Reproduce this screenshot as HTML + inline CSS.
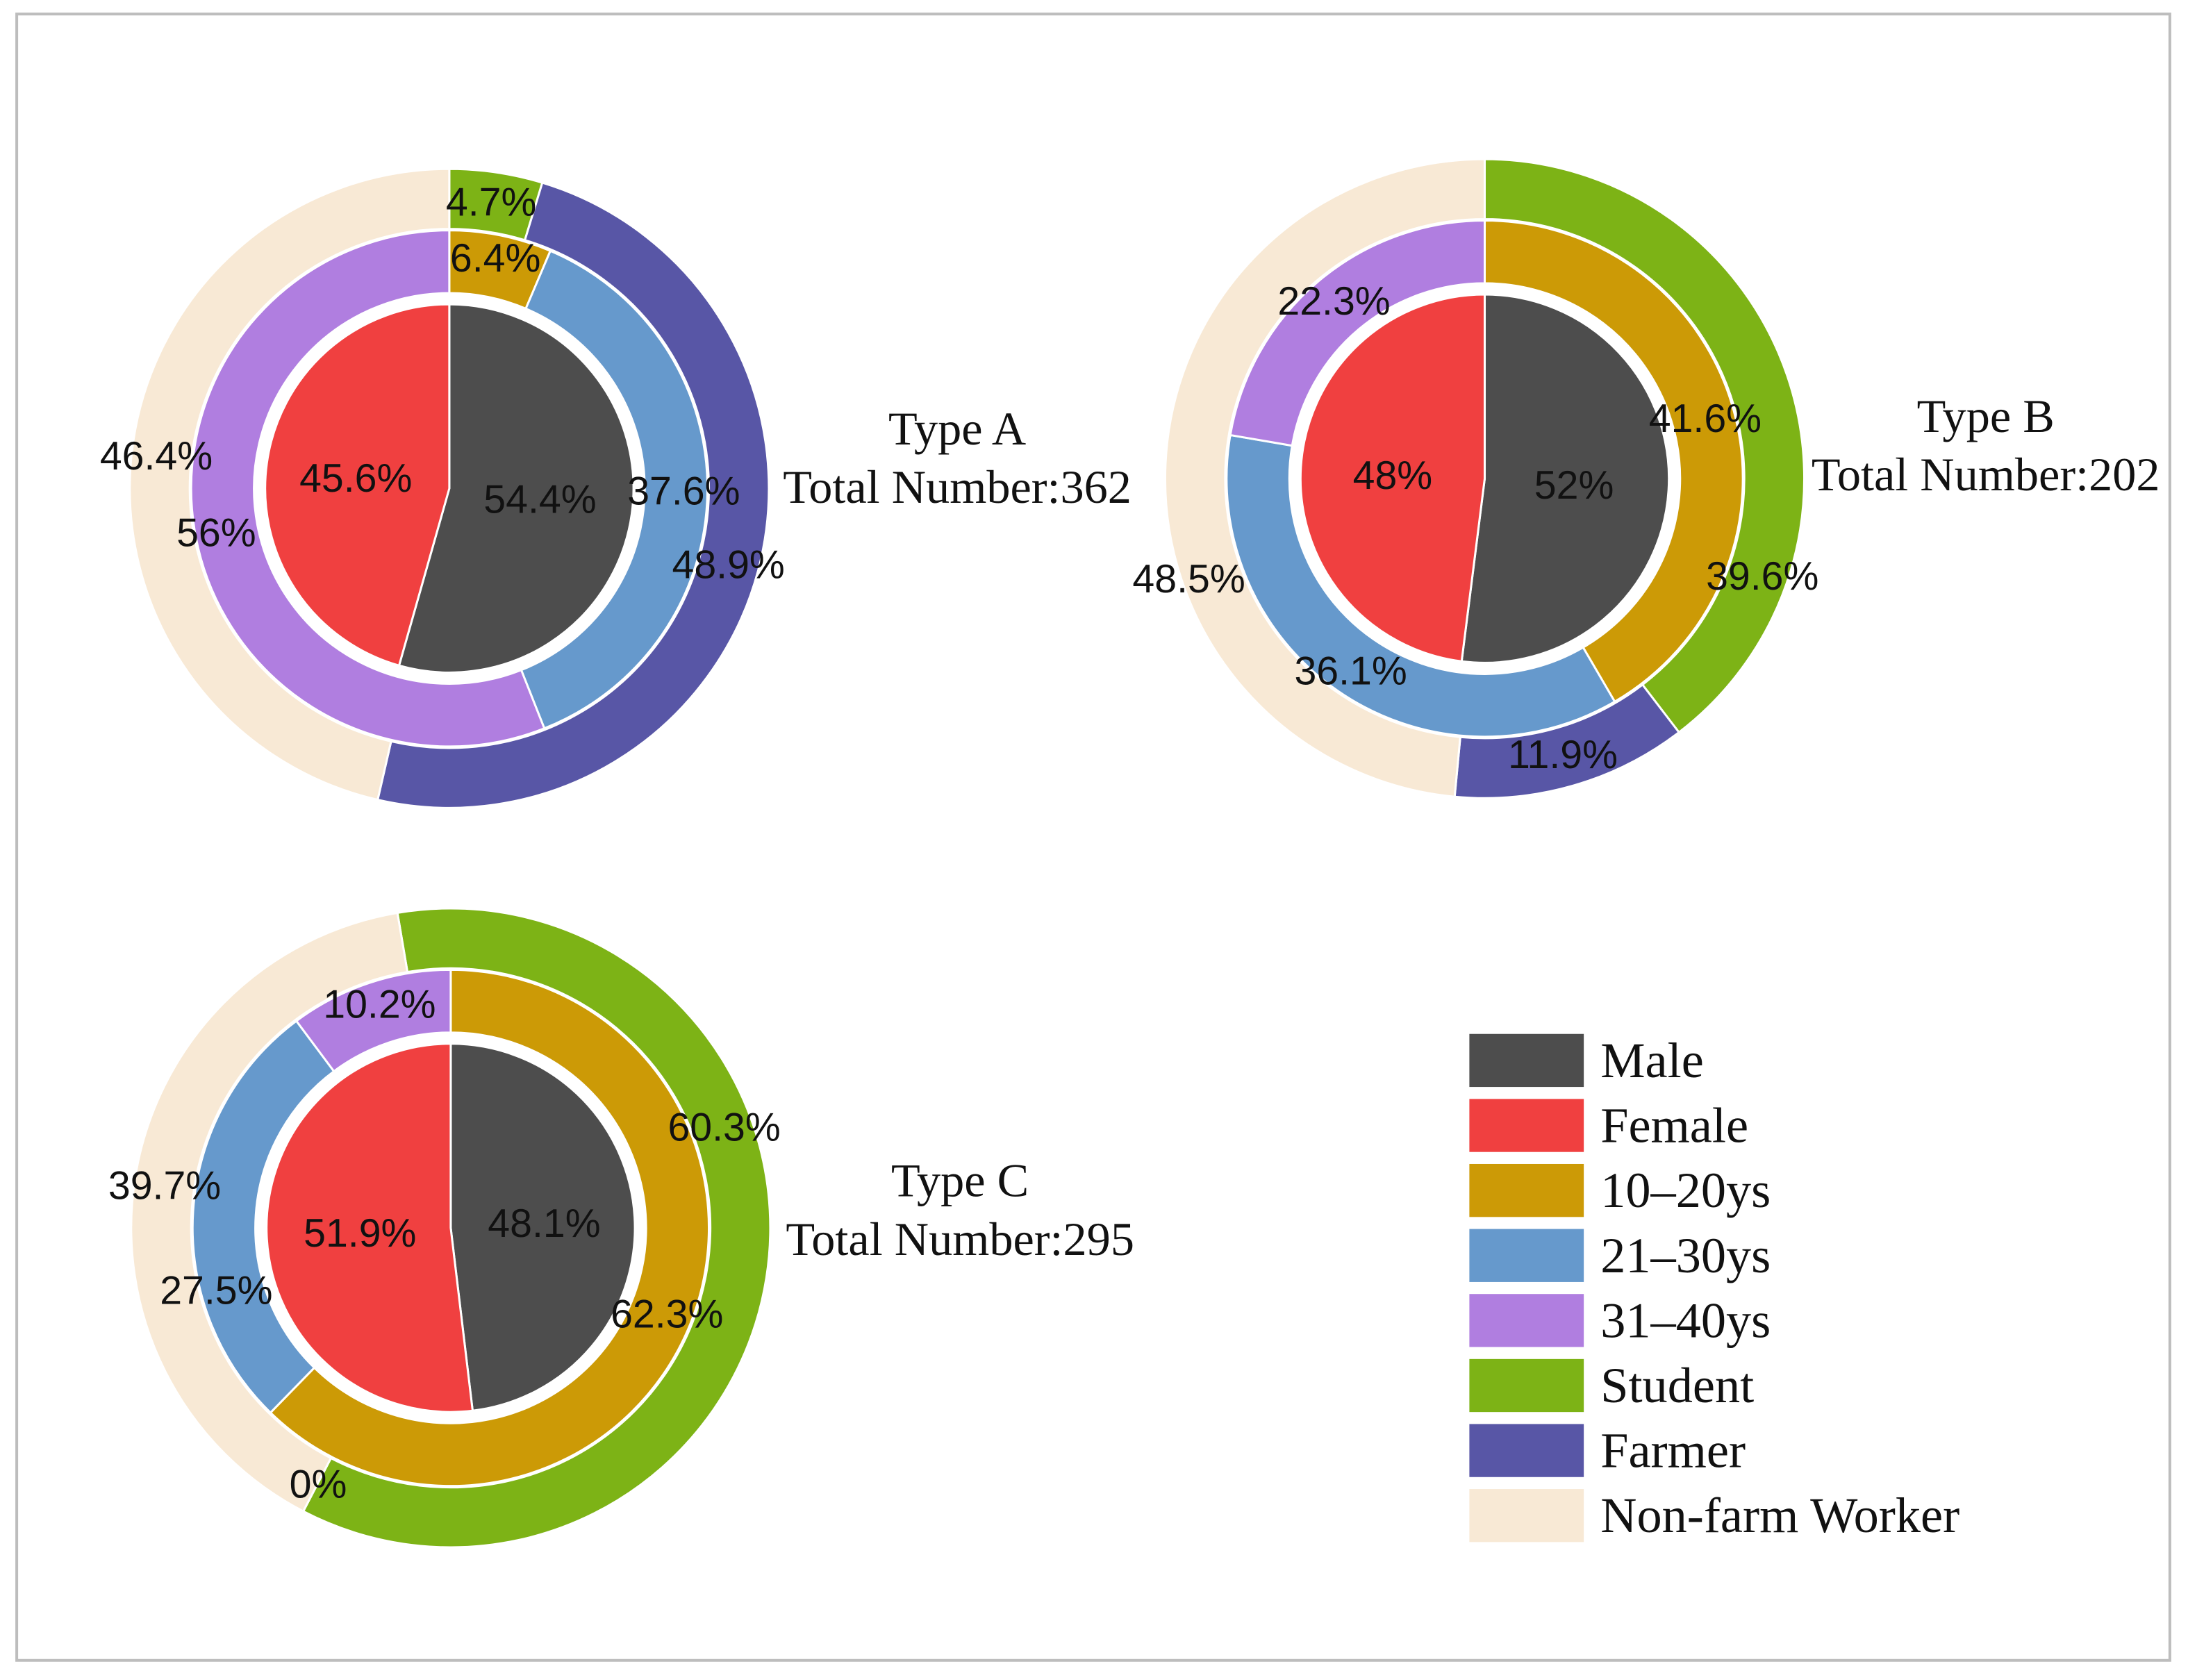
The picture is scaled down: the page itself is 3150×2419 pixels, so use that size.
<!DOCTYPE html>
<html><head><meta charset="utf-8"><style>
html,body{margin:0;padding:0;background:#fff;}
svg{display:block;}
.lbl{font-family:"Liberation Sans",Arial,sans-serif;font-size:28.5px;fill:#111;}
.ttl{font-family:"Liberation Serif","Times New Roman",serif;font-size:34px;fill:#111;}
.leg{font-family:"Liberation Serif","Times New Roman",serif;font-size:36px;fill:#111;}
</style></head><body>
<svg id="chart" width="3150" height="2419" viewBox="0 0 1568 1204" xmlns="http://www.w3.org/2000/svg">
<rect x="12" y="10" width="1543" height="1180" fill="#fff" stroke="#bdbdbd" stroke-width="2"/>
<g id="plots"></g>
<g id="legend"></g>
</svg>
<script>
const categoriesGender=["Male","Female"];
const categoriesAge=["10–20ys","21–30ys","31–40ys"];
const categoriesJob=["Student","Farmer","Non-farm Worker"];
const genderA=[54.4,45.6], ageA=[6.4,37.6,56], jobA=[4.7,48.9,46.4];
const genderB=[52,48], ageB=[41.6,36.1,22.3], jobB=[39.6,11.9,48.5];
const genderC=[48.1,51.9], ageC=[62.3,27.5,10.2], jobC=[60.3,0,39.7];
const totals=[362,202,295];
const typeNames=["Type A","Type B","Type C"];
const colGender=["#4d4d4d","#f04040"], colAge=["#cc9a06","#6699cc","#b07ee0"], colJob=["#7db316","#5856a6","#f8e9d5"];
const NS="http://www.w3.org/2000/svg";
const plots=document.getElementById('plots');
function pt(cx,cy,r,a){const t=a*Math.PI/180;return [cx+r*Math.sin(t),cy-r*Math.cos(t)];}
function arcPath(cx,cy,r0,r1,a0,a1){
  const big=(a1-a0)>180?1:0;
  const [x1,y1]=pt(cx,cy,r1,a0),[x2,y2]=pt(cx,cy,r1,a1);
  if(r0<=0){return `M${cx},${cy}L${x1},${y1}A${r1},${r1} 0 ${big} 1 ${x2},${y2}Z`;}
  const [x3,y3]=pt(cx,cy,r0,a1),[x4,y4]=pt(cx,cy,r0,a0);
  return `M${x1},${y1}A${r1},${r1} 0 ${big} 1 ${x2},${y2}L${x3},${y3}A${r0},${r0} 0 ${big} 0 ${x4},${y4}Z`;
}
function ring(g,cx,cy,r0,r1,vals,cols,names,start,key){
  let a=start;
  vals.forEach((v,i)=>{
    const span=v/100*360; if(span<=0){return;}
    const p=document.createElementNS(NS,'path');
    p.setAttribute('d',arcPath(cx,cy,r0,r1,a,a+Math.min(span,359.99)));
    p.setAttribute('fill',cols[i]);p.setAttribute('stroke','#fff');p.setAttribute('stroke-width','1.5');
    
    
    g.appendChild(p);a+=span;
  });
}
function txt(g,x,y,s,cls,name){
  const t=document.createElementNS(NS,'text');
  t.setAttribute('x',x);t.setAttribute('y',y);t.setAttribute('class',cls);
  t.setAttribute('text-anchor','middle');t.setAttribute('dominant-baseline','central');
  
  
  t.textContent=s;g.appendChild(t);
}
const charts=[
 {c:[322,350],g:genderA,a:ageA,j:jobA,js:0,t:[686,307],
  L:[[387,358],[255,343],[355,185],[490,352],[155,382],[352,145],[522,405],[112,327]]},
 {c:[1064,343],g:genderB,a:ageB,j:jobB,js:0,t:[1423,298],
  L:[[1128,348],[998,341],[1222,300],[968,481],[956,216],[1263,413],[1120,541],[852,415]]},
 {c:[323,880],g:genderC,a:ageC,j:jobC,js:-9.6,t:[688,846],
  L:[[390,877],[258,884],[478,942],[155,925],[272,720],[519,808],[228,1064],[118,850]]}
];
charts.forEach((ch,k)=>{
  const g=document.createElementNS(NS,'g');
  
  
  plots.appendChild(g);
  const [cx,cy]=ch.c;
  ring(g,cx,cy,186,229,ch.j,colJob,categoriesJob,ch.js,'job');
  ring(g,cx,cy,140,185,ch.a,colAge,categoriesAge,0,'age');
  ring(g,cx,cy,0,132,ch.g,colGender,categoriesGender,0,'gender');
  const vals=[...ch.g,...ch.a,...ch.j];
  vals.forEach((v,i)=>txt(g,ch.L[i][0],ch.L[i][1],v+'%','lbl','value-label'));
  txt(g,ch.t[0],ch.t[1],typeNames[k],'ttl','chart-title');
  txt(g,ch.t[0],ch.t[1]+42,'Total Number:'+totals[k],'ttl','total-number-label');
});
const leg=document.getElementById('legend');
const legNames=[...categoriesGender,...categoriesAge,...categoriesJob];
const legCols=[...colGender,...colAge,...colJob];
legNames.forEach((n,i)=>{
  const y=760+i*46.6;
  const r=document.createElementNS(NS,'rect');
  r.setAttribute('x',1053);r.setAttribute('y',y-19);r.setAttribute('width',82);r.setAttribute('height',38);
  r.setAttribute('fill',legCols[i]);
  
  
  leg.appendChild(r);
  const t=document.createElementNS(NS,'text');
  t.setAttribute('x',1147);t.setAttribute('y',y);t.setAttribute('class','leg');t.setAttribute('dominant-baseline','central');
  
  
  t.textContent=n;leg.appendChild(t);
});
</script>
</body></html>
